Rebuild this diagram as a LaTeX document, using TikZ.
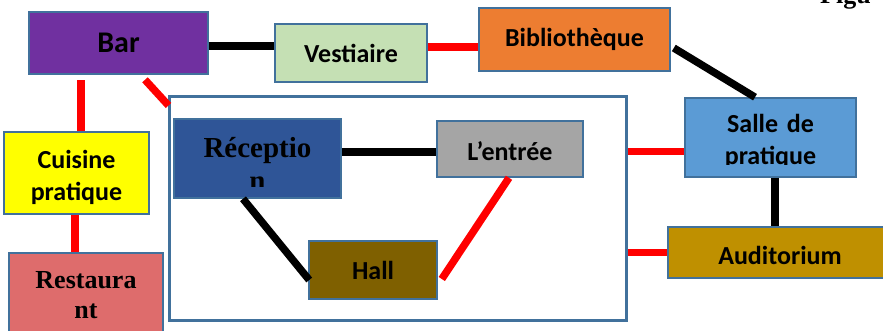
\documentclass[tikz,border=0pt]{standalone}
\usepackage{fontspec}
\setmainfont{Liberation Serif}
\newfontfamily\calib{Carlito}
\usetikzlibrary{calc}
\definecolor{bordblue}{HTML}{41719C}
\definecolor{cBar}{HTML}{7030A0}
\definecolor{cVest}{HTML}{C5E0B4}
\definecolor{cBib}{HTML}{ED7D31}
\definecolor{cSalle}{HTML}{5B9BD5}
\definecolor{cAud}{HTML}{BF9000}
\definecolor{cRec}{HTML}{2F5597}
\definecolor{cEnt}{HTML}{A5A5A5}
\definecolor{cHall}{HTML}{7F6000}
\definecolor{cCuis}{HTML}{FFFF00}
\definecolor{cRest}{HTML}{DE6C6C}
\newcommand{\lowerby}[2]{\raisebox{-#1}[\height][\depth]{#2}}
\begin{document}
\begin{tikzpicture}[x=1pt,y=-1pt,
  box/.style={draw=bordblue, line width=1.6pt, rectangle, inner sep=0pt},
  lbl/.style={font=\calib\bfseries\fontsize{26}{32}\selectfont, text=black},
  slbl/.style={font=\bfseries\fontsize{26}{30}\selectfont, text=black},
  blk/.style={draw=black, line width=7.5pt},
  rd/.style={draw=red, line width=7.5pt}]
\useasboundingbox (0,0) rectangle (883,331);

% top-right caption (cut off)
\node[font=\bfseries\fontsize{26}{30}\selectfont, anchor=base west, inner sep=0pt] (fig) at (820,4) {Figu};

% container
\node[draw=bordblue, line width=3pt, fill=white, minimum width=457pt, minimum height=223pt, inner sep=0pt] (cont) at (397.5,208.5) {};

% outer boxes
\node[box, fill=cBar, minimum width=179pt, minimum height=62pt, lbl, font=\calib\bfseries\fontsize{30}{34}\selectfont] (bar) at (118.5,43) {Bar};
\node[box, fill=cVest, minimum width=152pt, minimum height=58pt, lbl] (vest) at (351,53) {Vestiaire};
\node[box, fill=cBib, minimum width=191pt, minimum height=63pt, lbl] (bib) at (574.5,39.5) {Bibliothèque};
\node[box, fill=cSalle, minimum width=171pt, minimum height=79pt] (salle) at (770.5,137.5) {};
\begin{scope}
  \clip (686,99) rectangle (855,165);
  \node[lbl, align=center, text width=170pt, anchor=base, inner sep=0pt] (salleT) at (770.5,133) {Salle de\\pratique};
\end{scope}
\node[box, fill=cAud, minimum width=224pt, minimum height=51pt, lbl] (aud) at (780,252.5) {\lowerby{3pt}{Auditorium}};
\node[box, fill=cCuis, minimum width=145pt, minimum height=82pt] (cuis) at (76.5,173) {};
\node[lbl, align=center, text width=140pt, anchor=base, inner sep=0pt] (cuisT) at (76.5,169) {Cuisine\\pratique};
\node[box, fill=cRest, minimum width=154pt, minimum height=92pt] (rest) at (86,299) {};
\node[slbl, align=center, text width=150pt, anchor=base, inner sep=0pt] (restT) at (86,288) {Restaura\\nt};

% inner boxes
\node[box, fill=cRec, minimum width=167pt, minimum height=79pt] (rec) at (257.5,158.5) {};
\begin{scope}
  \clip (175,120) rectangle (340,187);
  \node[font=\bfseries\fontsize{29}{33}\selectfont, align=center, text width=160pt, anchor=base, inner sep=0pt] (recT) at (257.5,158) {Réceptio\\n};
\end{scope}
\node[box, fill=cEnt, minimum width=146pt, minimum height=56pt, lbl] (ent) at (510,149) {\lowerby{2.5pt}{L’entrée}};
\node[box, fill=cHall, minimum width=128pt, minimum height=58pt, lbl] (hall) at (373,270) {Hall};

% connectors
\draw[blk] ([yshift=-3pt]bar.east) -- ([yshift=-3pt]bar.east -| vest.west);
\draw[rd] ([yshift=6pt]vest.east) -- ([yshift=6pt]vest.east -| bib.west);
\draw[blk] ($(bib.east)+(3,8.5)$) -- ($(salle.north)+(-15.5,0)$);
\draw[blk] ($(salle.south)+(4.5,0)$) coordinate (sa1) -- (sa1 |- aud.north);
\draw[rd] ($(salle.west)+(0,14)$) coordinate (sa2) -- (sa2 -| cont.east);
\draw[rd] (aud.west) -- (aud.west -| cont.east);
\draw[rd, shorten >=5pt] ($(cuis.north)+(4.5,0)$) coordinate (cu1) -- (cu1 |- bar.south);
\draw[rd] ($(cuis.south)+(-1.5,0)$) coordinate (cu2) -- (cu2 |- rest.north);
\draw[rd] ($(bar.south)+(26.5,5)$) -- ($(cont.north west)+(1,10)$);
\draw[blk] ([yshift=6.5pt]rec.east) -- ([yshift=6.5pt]rec.east -| ent.west);
\draw[blk] ($(rec.south)+(-14.5,0)$) -- ($(hall.west)+(1,10)$);
\draw[rd] ($(hall.east)+(4,9)$) -- ($(ent.south)+(-1,0)$);
\end{tikzpicture}
\end{document}
